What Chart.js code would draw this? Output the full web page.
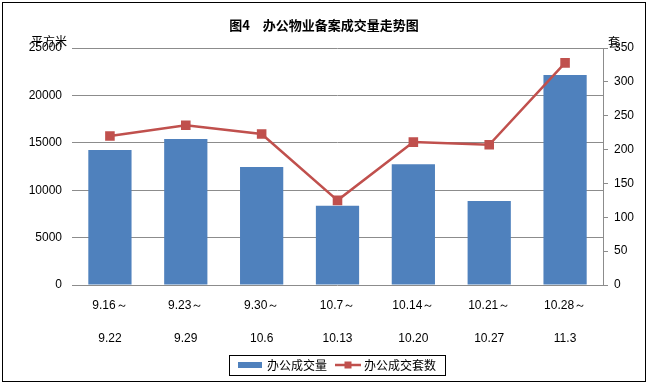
<!DOCTYPE html>
<html><head><meta charset="utf-8">
<script src="https://cdn.jsdelivr.net/npm/chart.js@4"></script>
<style>html,body{margin:0;padding:0;background:#fff;}#wrap{width:648px;height:384px;position:relative;}</style>
</head><body>
<div id="wrap"><canvas id="c" width="648" height="384"></canvas></div>
<script>
const categories = [['9.16～','9.22'],['9.23～','9.29'],['9.30～','10.6'],['10.7～','10.13'],['10.14～','10.20'],['10.21～','10.27'],['10.28～','11.3']];
const areaValues = [14250, 15400, 12450, 8350, 12750, 8850, 22150];
const unitValues = [220, 236, 223, 125, 211, 207, 328];
const seriesNames = ['办公成交量', '办公成交套数'];
const titleText = '图4　办公物业备案成交量走势图';
const leftUnit = '平方米';
const rightUnit = '套';

const BLUE = '#4F81BD', RED = '#C0504D', GRID = '#8C8C8C';
const numFont = {family: 'Liberation Sans, Arial, sans-serif', size: 12};

const deco = {
  id: 'deco',
  afterDraw(chart) {
    const ctx = chart.ctx, ca = chart.chartArea;
    ctx.save();
    ctx.strokeStyle = '#000'; ctx.lineWidth = 1;
    ctx.strokeRect(2.5, 2.5, 643, 379);
    ctx.fillStyle = '#000';
    ctx.font = 'bold 13px "Noto Sans CJK SC", sans-serif';
    ctx.textAlign = 'center'; ctx.textBaseline = 'middle';
    ctx.fillText(titleText, chart.width / 2, 25);
    ctx.font = '12px "Noto Sans CJK SC", sans-serif';
    ctx.textAlign = 'left';
    ctx.fillText(leftUnit, 31, ca.top - 7);
    ctx.fillText(rightUnit, ca.right + 5, ca.top - 6);
    ctx.font = '12px "Noto Sans CJK SC", sans-serif';
    const w1 = ctx.measureText(seriesNames[0]).width, w2 = ctx.measureText(seriesNames[1]).width;
    const sw = 26, gap = 3, pad = 9, mid = 8;
    const total = pad + sw + gap + w1 + mid + sw + gap + w2 + pad;
    const cx = (ca.left + ca.right) / 2;
    let x = Math.round(cx - total / 2);
    const top = 355, h = 20, yc = top + h / 2;
    ctx.strokeStyle = '#000'; ctx.lineWidth = 1;
    ctx.strokeRect(x + 0.5, top + 0.5, total, h);
    x += pad;
    ctx.fillStyle = BLUE;
    ctx.fillRect(x, yc - 3, sw - 2, 6);
    x += sw + gap;
    ctx.fillStyle = '#000';
    ctx.fillText(seriesNames[0], x, yc);
    x += w1 + mid;
    ctx.strokeStyle = RED; ctx.lineWidth = 2.5;
    ctx.beginPath(); ctx.moveTo(x, yc); ctx.lineTo(x + sw, yc); ctx.stroke();
    ctx.fillStyle = RED;
    ctx.fillRect(x + sw / 2 - 3.5, yc - 3.5, 7, 7);
    x += sw + gap;
    ctx.fillStyle = '#000';
    ctx.fillText(seriesNames[1], x, yc);
    ctx.restore();
  }
};

new Chart(document.getElementById('c'), {
  data: {
    labels: categories,
    datasets: [
      {type: 'line', label: seriesNames[1], data: unitValues, yAxisID: 'y1',
       borderColor: RED, backgroundColor: RED, borderWidth: 2.5,
       pointStyle: 'rect', pointRadius: 5, pointBackgroundColor: RED, pointBorderColor: RED,
       tension: 0, order: 0},
      {type: 'bar', label: seriesNames[0], data: areaValues, yAxisID: 'y',
       backgroundColor: BLUE, barPercentage: 0.57, categoryPercentage: 1, order: 1}
    ]
  },
  options: {
    responsive: false, animation: false,
    layout: {padding: {top: 48, left: 0, right: 0, bottom: 0}},
    plugins: {legend: {display: false}, title: {display: false}, tooltip: {enabled: false}},
    scales: {
      x: {
        grid: {display: false, drawTicks: false},
        border: {display: false},
        ticks: {color: '#000', font: {family: numFont.family, size: 12, lineHeight: 2.75}, padding: 4, maxRotation: 0, autoSkip: false},
        afterFit(s) { s.height = 99; }
      },
      y: {
        position: 'left', min: 0, max: 25000,
        ticks: {stepSize: 5000, color: '#000', font: numFont, padding: 10, callback: v => String(v)},
        grid: {color: GRID, lineWidth: 1, drawTicks: false},
        border: {display: false},
        afterFit(s) { s.width = 72; }
      },
      y1: {
        position: 'right', min: 0, max: 350,
        ticks: {stepSize: 50, color: '#000', font: numFont, padding: 6, callback: v => String(v)},
        grid: {drawOnChartArea: false, drawTicks: true, tickLength: 5, color: GRID},
        border: {display: true, color: GRID, width: 1},
        afterFit(s) { s.width = 45; }
      }
    }
  },
  plugins: [deco]
});
</script>
</body></html>
